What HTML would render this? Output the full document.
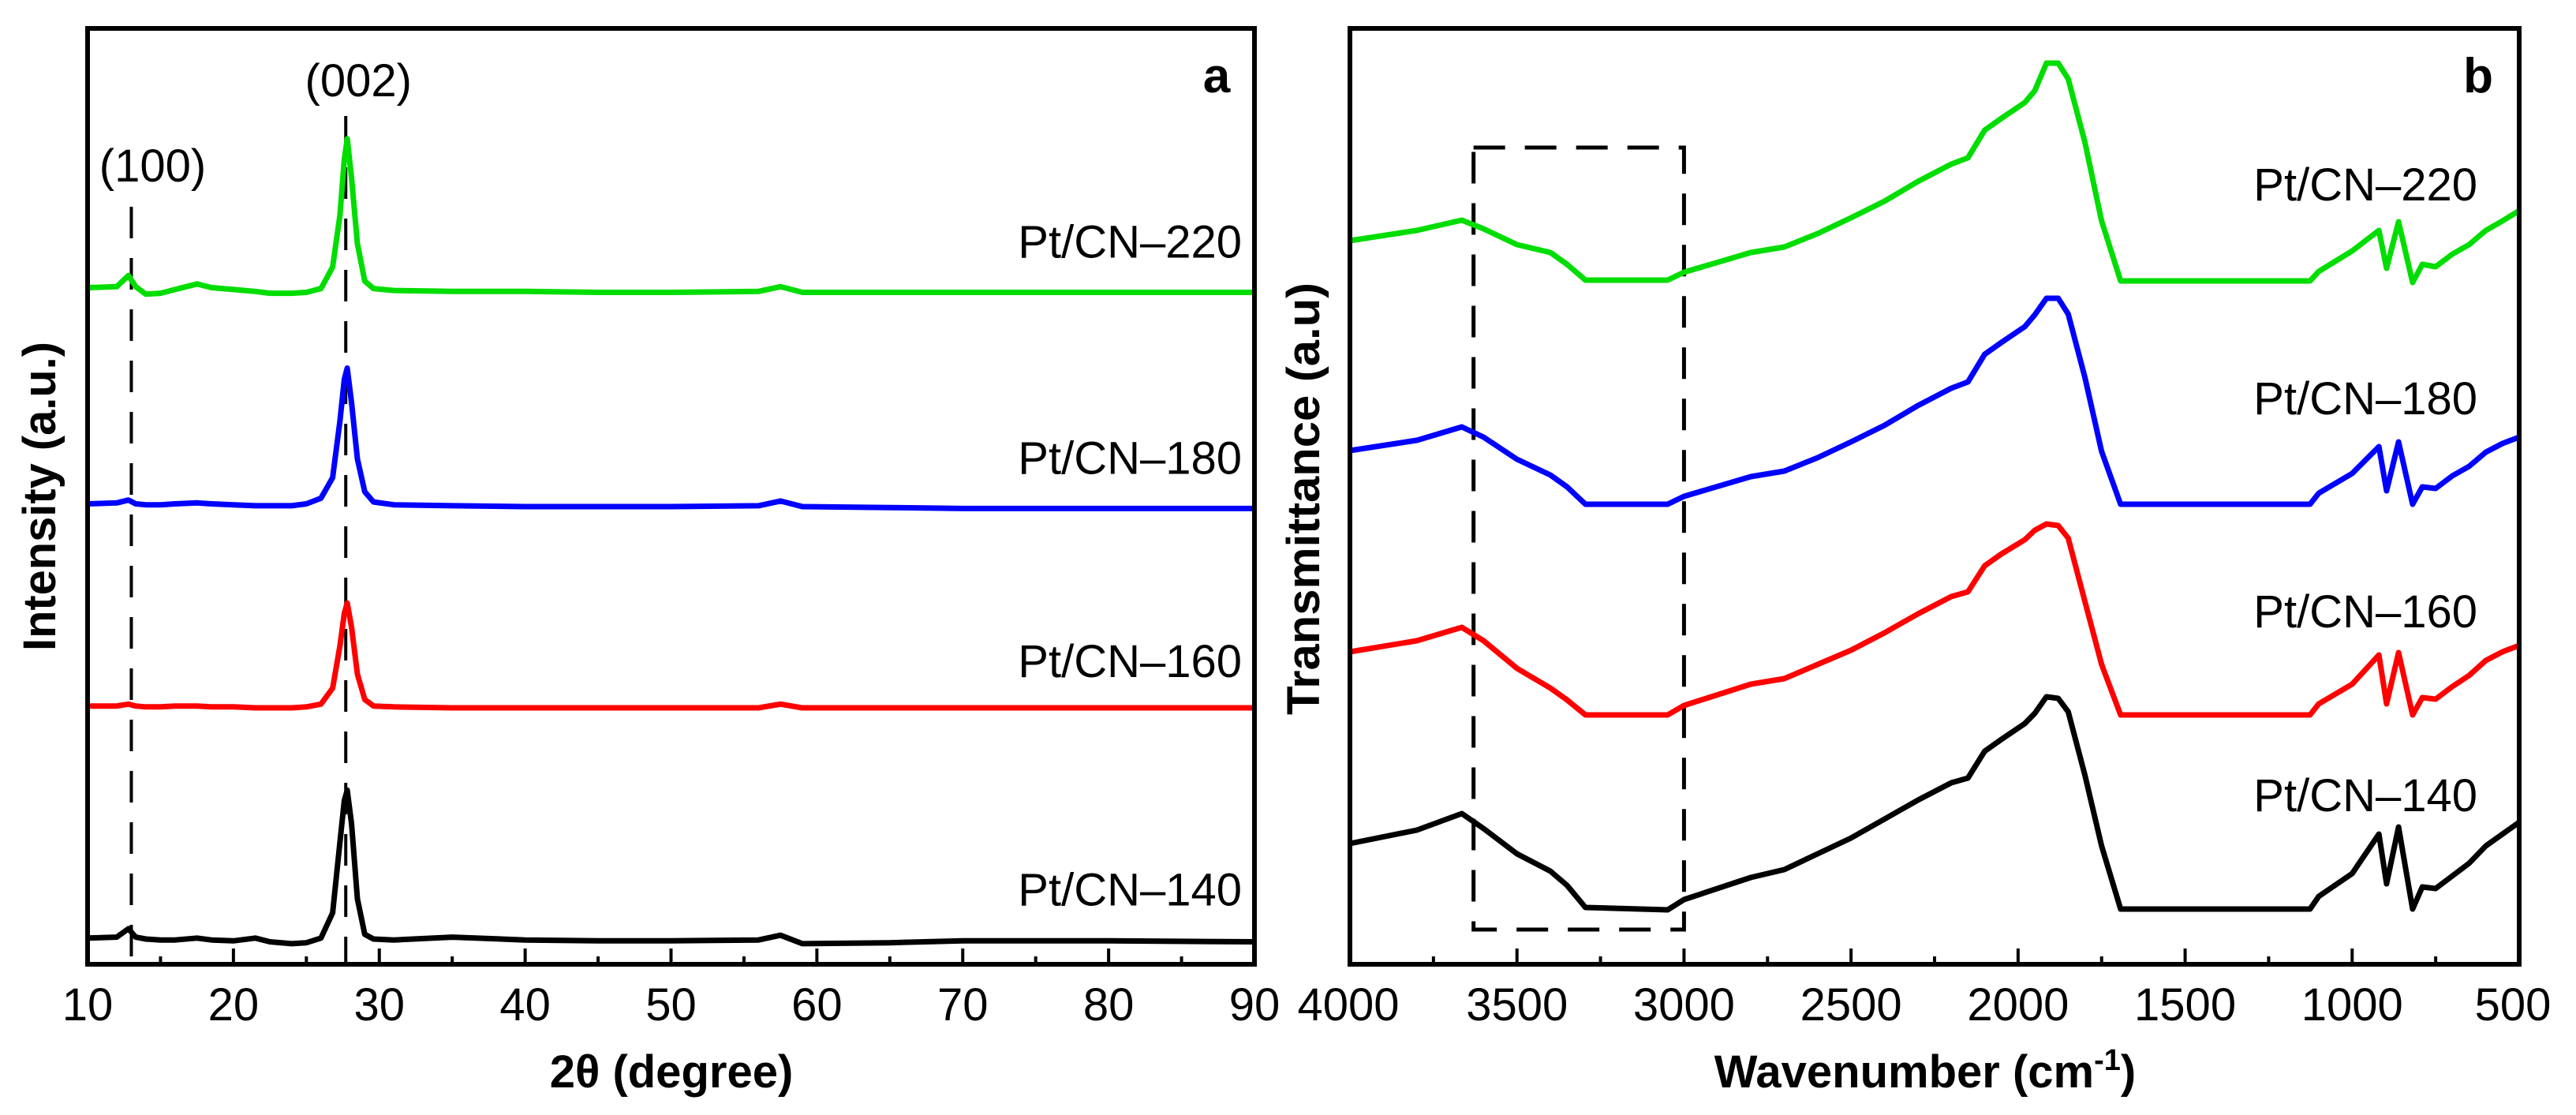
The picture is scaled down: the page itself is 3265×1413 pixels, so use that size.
<!DOCTYPE html>
<html><head><meta charset="utf-8"><style>
html,body{margin:0;padding:0;background:#fff;}
svg{display:block;}
text{font-family:"Liberation Sans",Arial,sans-serif;fill:#000;}
</style></head><body>
<svg id="chart" width="3265" height="1413" viewBox="0 0 3265 1413" xmlns="http://www.w3.org/2000/svg">
<g id="panelA"></g>
<g id="panelB"></g>
</svg>
<script>
// ---------- Panel a (XRD) data ----------
const xrdTicks = [10,20,30,40,50,60,70,80,90];
const xrdTheta = [10,12,12.8,13.3,14,15,16,17.5,18.5,20,21.5,22.5,24,25,26,26.8,27.3,27.6,27.8,28.1,28.5,29,29.6,31,35,40,45,50,56,57.5,59,65,70,80,90];
const xrdG = [72.3,72.4,73.6,72.4,71.6,71.7,72.1,72.7,72.3,72.1,71.9,71.7,71.7,71.8,72.2,74.5,80,86,88.2,84,77,73,72.2,72,71.9,71.9,71.8,71.8,71.9,72.4,71.8,71.8,71.8,71.8,71.8];
const xrdB = [49.2,49.3,49.6,49.2,49.1,49.1,49.2,49.3,49.2,49.1,49.0,49.0,49.0,49.2,49.8,52,58,62.5,63.7,60,54,50.5,49.4,49.1,49.0,48.9,48.9,48.9,49.0,49.5,48.9,48.8,48.7,48.7,48.7];
const xrdR = [27.6,27.6,27.8,27.6,27.5,27.5,27.6,27.6,27.5,27.5,27.4,27.4,27.4,27.5,27.8,29.5,34,37.5,38.6,36,31,28.3,27.6,27.5,27.4,27.4,27.4,27.4,27.4,27.8,27.4,27.4,27.4,27.4,27.4];
const xrdK = [2.8,2.9,3.8,2.9,2.7,2.6,2.6,2.8,2.6,2.5,2.8,2.4,2.2,2.3,2.8,5.5,13,17.5,18.6,15,7,3.2,2.7,2.6,2.9,2.6,2.5,2.5,2.6,3.1,2.2,2.3,2.5,2.5,2.4];
const xrdLabels = ["Pt/CN–220","Pt/CN–180","Pt/CN–160","Pt/CN–140"];
const xrdLabelY = [75.5,52.4,30.7,6.3];
const xrdPeaks = [13,27.7];
const xrdPeakNames = ["(100)","(002)"];

// ---------- Panel b (FTIR) data ----------
const irTicks = [4000,3500,3000,2500,2000,1500,1000,500];
const irWave = [4000,3800,3665,3600,3500,3400,3350,3295,3049,3000,2800,2700,2600,2500,2400,2300,2200,2150,2100,2050,1980,1950,1915,1880,1850,1800,1750,1693,1126,1100,1000,920,897,861,819,790,750,700,650,600,550,500];
const irG = [917,930,943,932,912,902,887,867,867,877,902,909,926,946,967,992,1014,1022,1057,1072,1092,1107,1142,1142,1122,1042,942,866,866,878,904,930,882,941,864,887,884,900,912,930,942,955];
const irB = [651,664,681,668,640,620,605,583,583,593,618,625,642,662,683,708,730,738,773,788,808,823,844,844,824,744,650,583,583,597,622,656,600,662,583,605,603,619,631,649,660,668];
const irR = [396,410,427,410,375,350,335,316,316,328,355,362,380,398,420,444,466,472,505,520,538,550,558,556,540,460,380,316,316,330,355,392,330,395,316,338,336,352,366,385,396,404];
const irK = [153,170,191,172,140,118,100,72,69,82,110,120,140,160,184,208,230,236,270,285,305,318,339,337,320,240,150,70,70,86,115,165,102,174,70,98,96,112,128,150,165,180];
const irLabels = ["Pt/CN–220","Pt/CN–180","Pt/CN–160","Pt/CN–140"];
const irLabelY = [968,697,427,194];
const irBox = [3630,3000];

const NS="http://www.w3.org/2000/svg";
function mk(tag,attrs,parent,txt){const e=document.createElementNS(NS,tag);for(const k in attrs)e.setAttribute(k,attrs[k]);if(txt!==undefined)e.textContent=txt;parent.appendChild(e);return e;}

const TOP=36, BOT=1222;
// ---- Panel A ----
const A=document.getElementById('panelA');
const ax0=111, ax1=1590;
const xA=v=>ax0+(v-10)/80*(ax1-ax0);
const yA=v=>BOT-(v/100)*(BOT-TOP);
// dashed peak lines
xrdPeaks.forEach((p,i)=>{
  const l=mk('line',{x1:xA(p),x2:xA(p),y1:i==0?262:147,y2:BOT,stroke:'#000','stroke-width':4,'stroke-dasharray':'40 25'},A);
  
  
  const t=mk('text',{x:xA(p)+(i==0?27:16),y:i==0?230:122,'font-size':58,'text-anchor':'middle'},A,xrdPeakNames[i]);
  
  
});
const xrdSeries=[[xrdG,'#00dd00'],[xrdB,'#0000ff'],[xrdR,'#ff0000'],[xrdK,'#000000']];
xrdSeries.forEach((s,i)=>{
  const d=xrdTheta.map((t,j)=>(j?'L':'M')+xA(t).toFixed(1)+' '+yA(s[0][j]).toFixed(1)).join(' ');
  const p=mk('path',{d:d,fill:'none',stroke:s[1],'stroke-width':7,'stroke-linejoin':'round'},A);
  
  
  const t=mk('text',{x:1574,y:yA(xrdLabelY[i]),'font-size':58,'text-anchor':'end'},A,xrdLabels[i]);
  
  
});
for(let v=10;v<=90;v+=5){
  const maj=v%10==0;
  const tk=mk('line',{x1:xA(v),x2:xA(v),y1:BOT,y2:BOT-(maj?20:10),stroke:'#000','stroke-width':4},A);
  
  
}
xrdTicks.forEach(v=>{
  const t=mk('text',{x:xA(v),y:1293,'font-size':58,'text-anchor':'middle'},A,String(v));
  
  
});
const fa=mk('rect',{x:ax0,y:TOP,width:ax1-ax0,height:BOT-TOP,fill:'none',stroke:'#000','stroke-width':6},A);


const la=mk('text',{x:1542,y:117,'font-size':62,'font-weight':'bold','text-anchor':'middle'},A,'a');


const xta=mk('text',{x:851,y:1378,'font-size':58,'font-weight':'bold','text-anchor':'middle'},A,'2θ (degree)');


const yta=mk('text',{x:0,y:0,'font-size':58,'font-weight':'bold','text-anchor':'middle',textLength:392,lengthAdjust:'spacingAndGlyphs',transform:'translate(70,629) rotate(-90)'},A,'Intensity (a.u.)');



// ---- Panel B ----
const B=document.getElementById('panelB');
const bx0=1711, bx1=3193;
const xB=w=>bx0+(4000-w)/3500*(bx1-bx0);
const yB=v=>BOT-v;
const bx=xB(irBox[0]), bxr=xB(irBox[1]);
const box=mk('rect',{x:bx,y:187,width:bxr-bx,height:1178-187,fill:'none',stroke:'#000','stroke-width':5,'stroke-dasharray':'40 25'},B);


const irSeries=[[irG,'#00dd00'],[irB,'#0000ff'],[irR,'#ff0000'],[irK,'#000000']];
irSeries.forEach((s,i)=>{
  const d=irWave.map((w,j)=>(j?'L':'M')+xB(w).toFixed(1)+' '+yB(s[0][j]).toFixed(1)).join(' ');
  const p=mk('path',{d:d,fill:'none',stroke:s[1],'stroke-width':7,'stroke-linejoin':'round'},B);
  
  
  const t=mk('text',{x:3140,y:yB(irLabelY[i]),'font-size':58,'text-anchor':'end'},B,irLabels[i]);
  
  
});
for(let w=4000;w>=500;w-=250){
  const maj=w%500==0;
  const tk=mk('line',{x1:xB(w),x2:xB(w),y1:BOT,y2:BOT-(maj?20:10),stroke:'#000','stroke-width':4},B);
  
  
}
irTicks.forEach((v,i)=>{
  const t=mk('text',{x:xB(v)+(i==0?-2:(i==irTicks.length-1?-8:0)),y:1293,'font-size':58,'text-anchor':'middle'},B,String(v));
  
  
});
const fb=mk('rect',{x:bx0,y:TOP,width:bx1-bx0,height:BOT-TOP,fill:'none',stroke:'#000','stroke-width':6},B);


const lb=mk('text',{x:3141,y:117,'font-size':62,'font-weight':'bold','text-anchor':'middle'},B,'b');


const xtb=mk('text',{x:2440,y:1378,'font-size':58,'font-weight':'bold','text-anchor':'middle'},B);


xtb.appendChild(document.createTextNode('Wavenumber (cm'));
const sup=mk('tspan',{dy:-22,'font-size':38},xtb,'-1');
const cl=mk('tspan',{dy:22},xtb,')');
const ytb=mk('text',{x:0,y:0,'font-size':58,'font-weight':'bold','text-anchor':'middle',textLength:548,lengthAdjust:'spacingAndGlyphs',transform:'translate(1672,632) rotate(-90)'},B,'Transmittance (a.u)');


</script>
</body></html>
